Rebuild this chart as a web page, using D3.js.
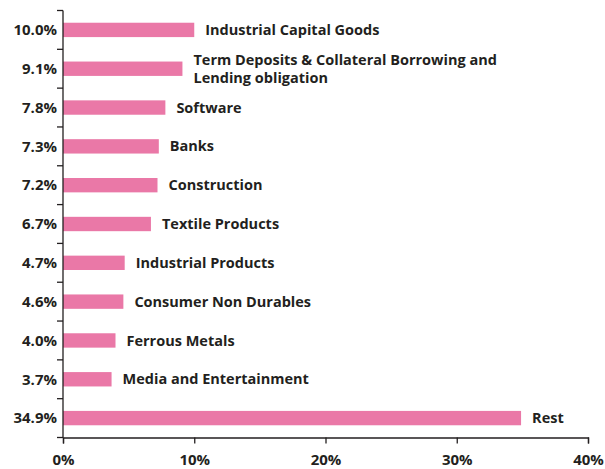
<!DOCTYPE html>
<html>
<head>
<meta charset="utf-8">
<script src="https://cdn.jsdelivr.net/npm/d3@7"></script>
<style>
  html, body { margin: 0; padding: 0; background: #fff; }
  svg text { font-family: "Open Sans", "Noto Sans", sans-serif; font-weight: 700; fill: #231f20; }
</style>
</head>
<body>
<svg id="chart" width="605" height="469"></svg>
<script>
// Sector allocation (% of net assets)
const categories = [
  "Industrial Capital Goods",
  "Term Deposits & Collateral Borrowing and|Lending obligation",
  "Software",
  "Banks",
  "Construction",
  "Textile Products",
  "Industrial Products",
  "Consumer Non Durables",
  "Ferrous Metals",
  "Media and Entertainment",
  "Rest"
];
const values = [10.0, 9.1, 7.8, 7.3, 7.2, 6.7, 4.7, 4.6, 4.0, 3.7, 34.9];
const valueLabels = ["10.0%", "9.1%", "7.8%", "7.3%", "7.2%", "6.7%", "4.7%", "4.6%", "4.0%", "3.7%", "34.9%"];
const xTicks = [0, 10, 20, 30, 40];

const svg = d3.select("#chart");
const margin = { left: 63, right: 18, top: 10.5, bottom: 31.5 };
const W = 605, H = 469;

const x = d3.scaleLinear().domain([0, 40]).range([margin.left, 588]);
const y = d3.scaleBand().domain(d3.range(categories.length))
  .range([margin.top, H - margin.bottom]).paddingInner(0.63).paddingOuter(0.315);

// bars
svg.append("g").selectAll("rect").data(values).join("rect")
  .attr("x", x(0))
  .attr("y", (d, i) => y(i))
  .attr("width", d => x(d) - x(0))
  .attr("height", y.bandwidth())
  .attr("fill", "#ea78a7");

// category labels to the right of each bar
const lab = svg.append("g").selectAll("text").data(categories).join("text")
  .attr("font-size", 14.5)
  .attr("transform", (d, i) => `translate(${x(values[i]) + 11},${y(i) + y.bandwidth() / 2})`);
lab.each(function (d) {
  const lines = d.split("|");
  const t = d3.select(this);
  lines.forEach((ln, k) => {
    t.append("tspan")
      .attr("x", 0)
      .attr("y", (k - (lines.length - 1) / 2) * 18)
      .attr("dy", "0.35em")
      .text(ln);
  });
});

// y axis: boundary ticks between bands, value labels at band centres
const yAxisG = svg.append("g");
const step = y.step();
const y0 = margin.top;
const yEnd = H - margin.bottom;
yAxisG.append("line")
  .attr("x1", x(0)).attr("x2", x(0)).attr("y1", y0).attr("y2", yEnd)
  .attr("stroke", "#231f20").attr("stroke-width", 1.3);
yAxisG.selectAll("line.tk").data(d3.range(categories.length + 1)).join("line")
  .attr("class", "tk")
  .attr("x1", x(0) - 6).attr("x2", x(0))
  .attr("y1", i => y0 + i * step).attr("y2", i => y0 + i * step)
  .attr("stroke", "#231f20").attr("stroke-width", 1.3);
yAxisG.selectAll("text").data(valueLabels).join("text")
  .attr("x", x(0) - 6)
  .attr("y", (d, i) => y(i) + y.bandwidth() / 2)
  .attr("dy", "0.35em")
  .attr("text-anchor", "end")
  .attr("font-size", 15)
  .text(d => d);

// x axis
const xAxis = d3.axisBottom(x).tickValues(xTicks).tickFormat(d => d + "%").tickSize(6).tickPadding(11);
const xg = svg.append("g").attr("transform", `translate(0,${yEnd})`).call(xAxis);
xg.select(".domain").attr("stroke", "#231f20").attr("stroke-width", 1.3);
xg.selectAll(".tick line").attr("stroke", "#231f20").attr("stroke-width", 1.3);
xg.selectAll(".tick text").attr("font-size", 15).attr("font-family", null).attr("fill", "#231f20");
</script>
</body>
</html>
